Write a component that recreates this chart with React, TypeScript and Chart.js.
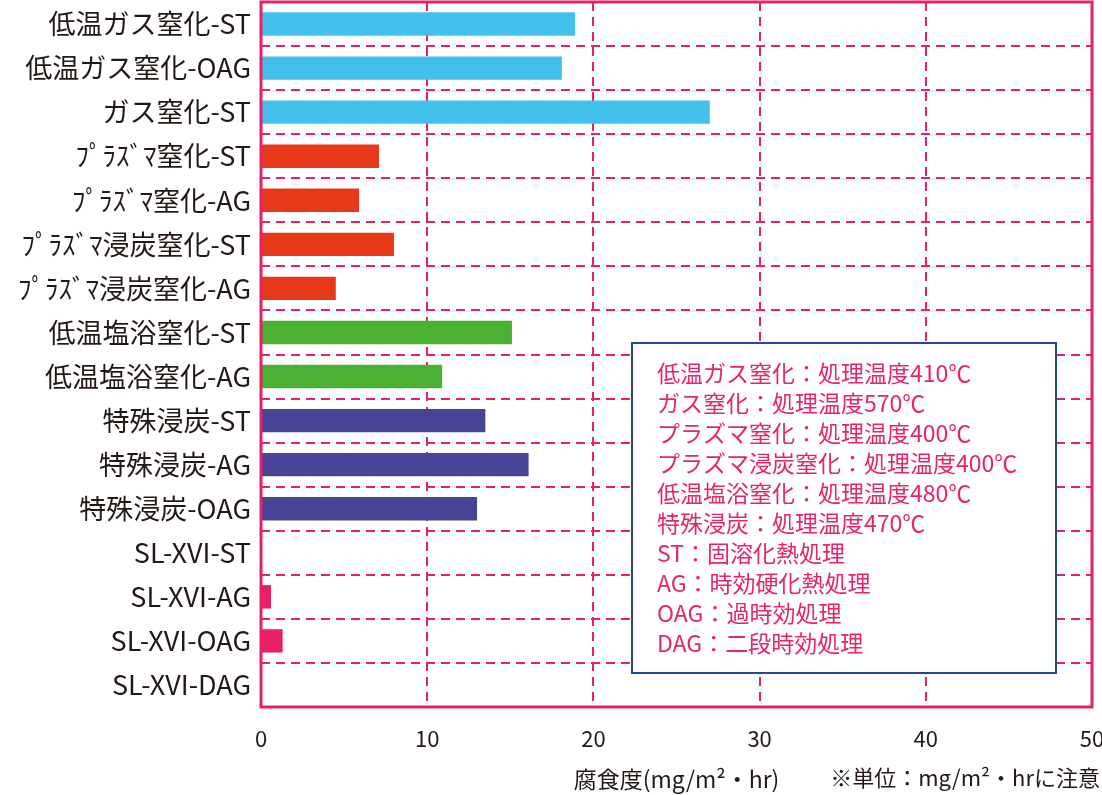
import { useEffect, useRef } from 'react';
import { Chart, registerables } from 'chart.js';

Chart.register(...registerables);

const categories = [
  '低温ガス窒化-ST',
  '低温ガス窒化-OAG',
  'ガス窒化-ST',
  'ﾌﾟﾗｽﾞﾏ窒化-ST',
  'ﾌﾟﾗｽﾞﾏ窒化-AG',
  'ﾌﾟﾗｽﾞﾏ浸炭窒化-ST',
  'ﾌﾟﾗｽﾞﾏ浸炭窒化-AG',
  '低温塩浴窒化-ST',
  '低温塩浴窒化-AG',
  '特殊浸炭-ST',
  '特殊浸炭-AG',
  '特殊浸炭-OAG',
  'SL-XVI-ST',
  'SL-XVI-AG',
  'SL-XVI-OAG',
  'SL-XVI-DAG',
];

const corrosion = [18.9, 18.1, 27.0, 7.1, 5.9, 8.0, 4.5, 15.1, 10.9, 13.5, 16.1, 13.0, 0, 0.6, 1.3, 0];

const groupColors = ['#43BFEC', '#43BFEC', '#43BFEC', '#E8381A', '#E8381A', '#E8381A', '#E8381A',
  '#4AB133', '#4AB133', '#474496', '#474496', '#474496', '#E91E63', '#E91E63', '#E91E63', '#E91E63'];

const xTicks = [0, 10, 20, 30, 40, 50];

const xTitle = '腐食度(mg/m²・hr)';
const unitNote = '※単位：mg/m²・hrに注意';

const noteLines = [
  '低温ガス窒化：処理温度410℃',
  'ガス窒化：処理温度570℃',
  'プラズマ窒化：処理温度400℃',
  'プラズマ浸炭窒化：処理温度400℃',
  '低温塩浴窒化：処理温度480℃',
  '特殊浸炭：処理温度470℃',
  'ST：固溶化熱処理',
  'AG：時効硬化熱処理',
  'OAG：過時効処理',
  'DAG：二段時効処理',
];

const FONT = '"Noto Sans CJK JP", "Noto Sans", sans-serif';
const PINK = '#E8206A';
const INK = '#231815';

// frame round the plot, the note box and the unit remark
const framePlugin = {
  id: 'frame',
  afterDatasetsDraw(chart) {
    const { ctx, chartArea: a } = chart;
    ctx.save();
    ctx.strokeStyle = PINK;
    ctx.lineWidth = 3;
    ctx.strokeRect(a.left, a.top, a.right - a.left, a.bottom - a.top);

    // note box
    ctx.fillStyle = '#ffffff';
    ctx.fillRect(632, 343, 424, 330);
    ctx.strokeStyle = '#2347A0';
    ctx.lineWidth = 2;
    ctx.strokeRect(632, 343, 424, 330);
    ctx.fillStyle = '#E6246B';
    ctx.font = `23px ${FONT}`;
    ctx.textAlign = 'left';
    ctx.textBaseline = 'middle';
    noteLines.forEach((line, i) => {
      ctx.fillText(line, 657, 373 + i * 30);
    });

    ctx.fillStyle = INK;
    ctx.font = `22px ${FONT}`;
    ctx.textAlign = 'right';
    ctx.fillText(unitNote, 1100, 778);
    ctx.restore();
  },
};

const App = () => {
  const chartRef = useRef(null);

  useEffect(() => {
    const ctx = chartRef.current.getContext('2d');
    const chartInstance = new Chart(ctx, {
      type: 'bar',
      data: {
        labels: categories,
        datasets: [
          {
            data: corrosion,
            backgroundColor: groupColors,
            borderWidth: 0,
            barPercentage: 0.53,
            categoryPercentage: 1,
          },
        ],
      },
      options: {
        indexAxis: 'y',
        animation: false,
        responsive: true,
        maintainAspectRatio: false,
        layout: { padding: { top: 2, right: 10, left: 0, bottom: 0 } },
        plugins: {
          legend: { display: false },
          tooltip: { enabled: false },
        },
        scales: {
          x: {
            min: xTicks[0],
            max: xTicks[xTicks.length - 1],
            ticks: {
              stepSize: xTicks[1] - xTicks[0],
              color: INK,
              font: { family: FONT, size: 22 },
              padding: 18,
            },
            grid: {
              color: PINK,
              lineWidth: 2,
              drawTicks: false,
            },
            border: { display: false, dash: [9, 6] },
            title: {
              display: true,
              text: xTitle,
              color: INK,
              font: { family: FONT, size: 23 },
              padding: { top: 0, bottom: 2 },
            },
            afterFit: (scale) => {
              scale.height = 88;
              scale.paddingLeft = 0;
              scale.paddingRight = 0;
            },
          },
          y: {
            ticks: {
              color: INK,
              font: { family: FONT, size: 27 },
              padding: 10,
              autoSkip: false,
            },
            grid: {
              color: PINK,
              lineWidth: 2,
              drawTicks: false,
              offset: true,
            },
            border: { display: false, dash: [9, 6] },
            afterFit: (scale) => {
              scale.width = 261;
              scale.paddingTop = 0;
              scale.paddingBottom = 0;
            },
          },
        },
      },
      plugins: [framePlugin],
    });

    return () => {
      chartInstance.destroy();
    };
  }, []);

  return (
    <div style={{ position: 'absolute', left: 0, top: 0, width: 1102, height: 795, background: '#fff' }}>
      <canvas ref={chartRef} />
    </div>
  );
};

export default App;
